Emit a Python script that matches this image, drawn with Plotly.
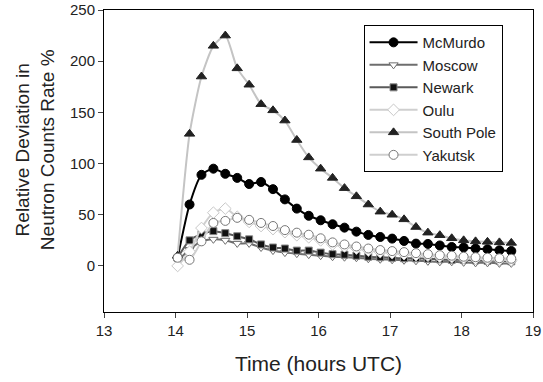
import plotly.graph_objects as go

# time points (hours UTC), 10-minute spacing
k = list(range(29))
times = [14.03 + i / 6 for i in k]

mcmurdo = [8, 60, 89, 95, 90, 86, 80, 82, 75, 65, 56, 49, 44.6, 40.7, 37.4, 33.5, 30.3, 28.3,
           26.7, 24.4, 21.8, 21.5, 20, 18.5, 18, 17, 16.3, 15.3, 14.6]
moscow = [5, 16, 24, 26, 25, 22, 22, 18, 15, 13, 12, 11, 10, 9, 8.5, 8, 7, 6.5, 6, 5.5, 5,
          4.5, 4, 4, 3.5, 3, 3, 2.5, 2.5]
newark = [8, 25, 31, 34, 32, 29, 26, 21, 18, 17, 15, 15, 13, 11.5, 11, 10, 9, 8.5, 8, 7.5,
          7.5, 7, 6.5, 6, 6, 5.5, 5, 5, 4.5]
oulu = [0, 14, 37, 52, 56, 48, 43, 39, 36, 33, 30, 28, 25, 21, 19, 17, 15, 13.5, 12.5, 11.5,
        10.5, 10, 9, 8.5, 7.5, 7, 6.5, 6, 5.5]
south_pole = [10, 129, 185, 215, 225, 193, 177, 158, 152, 142, 123, 106, 95, 86, 76, 68, 60,
              53, 50, 45.5, 38, 32.5, 30, 27, 25, 24, 23.5, 23, 22.5]
yakutsk = [8, 6, 24, 42, 44, 47, 45, 42, 39, 35, 32.5, 30.5, 27, 23, 21, 19, 17, 15.5, 14.5,
           13.5, 12.5, 11.5, 10.5, 10, 9, 8.5, 8, 7.5, 7]

x_ticks = [13, 14, 15, 16, 17, 18, 19]
y_ticks = [0, 50, 100, 150, 200, 250]

series = [
    ("McMurdo", mcmurdo, "#000000", dict(symbol="circle", size=9, color="#000000",
                                         line=dict(color="#000000", width=1))),
    ("Moscow", moscow, "#6e6e6e", dict(symbol="triangle-down", size=8, color="#ffffff",
                                        line=dict(color="#6e6e6e", width=1))),
    ("Newark", newark, "#5a5a5a", dict(symbol="square", size=7, color="#111111",
                                        line=dict(color="#888888", width=1))),
    ("Oulu", oulu, "#cfcfcf", dict(symbol="diamond", size=9, color="#ffffff",
                                    line=dict(color="#c8c8c8", width=1))),
    ("South Pole", south_pole, "#c4c4c4", dict(symbol="triangle-up", size=9, color="#222222",
                                                line=dict(color="#222222", width=1))),
    ("Yakutsk", yakutsk, "#cfcfcf", dict(symbol="circle", size=9, color="#ffffff",
                                          line=dict(color="#777777", width=1))),
]

fig = go.Figure()
for name, vals, lc, mk in series:
    fig.add_trace(go.Scatter(
        x=times, y=vals, name=name, mode="lines+markers",
        line=dict(color=lc, width=2, shape="spline", smoothing=0.6),
        marker=mk,
    ))

font = "Liberation Sans, Arial, sans-serif"
fig.update_layout(
    width=543, height=382,
    margin=dict(l=104, r=10, t=10, b=70),
    paper_bgcolor="white", plot_bgcolor="white",
    font=dict(family=font, size=15, color="#222222"),
    showlegend=True,
    legend=dict(
        x=0.605, y=0.95, xanchor="left", yanchor="top",
        bordercolor="#000000", borderwidth=1, bgcolor="white",
        font=dict(family=font, size=15, color="#222222"),
        itemwidth=48,
    ),
    xaxis=dict(
        range=[13, 19], tickvals=x_ticks, ticks="outside", ticklen=5,
        showline=True, linecolor="#000000", linewidth=1, mirror=True,
        showgrid=False, zeroline=False, automargin=False,
        tickfont=dict(size=15),
        title=dict(text="Time (hours UTC)", font=dict(size=21), standoff=18),
    ),
    yaxis=dict(
        range=[-45, 250], tickvals=y_ticks, ticks="outside", ticklen=5,
        showline=True, linecolor="#000000", linewidth=1, mirror=True,
        showgrid=False, zeroline=False, automargin=False,
        tickfont=dict(size=15),
    ),
    annotations=[dict(
        text="Relative Deviation in<br>Neutron Counts Rate %",
        textangle=-90, xref="paper", yref="paper",
        x=(35 - 104) / 429, y=(311.7 - 150) / 301.7,
        xanchor="center", yanchor="middle", showarrow=False,
        font=dict(family=font, size=19, color="#222222"),
    )],
)

fig.write_html("out.html")
